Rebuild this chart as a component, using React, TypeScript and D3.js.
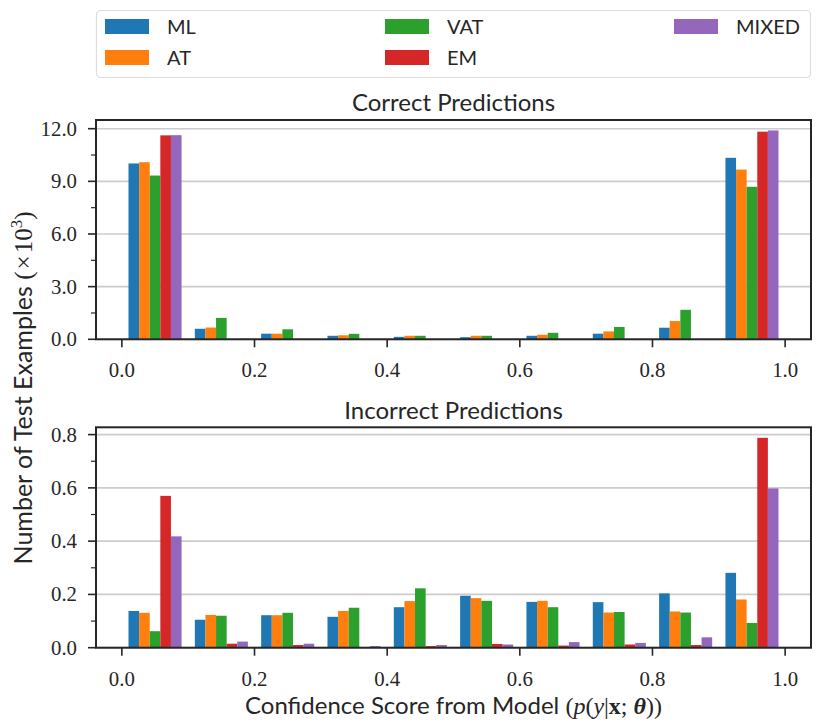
import React from "react";
import * as d3 from "d3";

const seriesNames = ["ML", "AT", "VAT", "EM", "MIXED"];
const seriesColors = ["#1f77b4", "#ff7f0e", "#2ca02c", "#d62728", "#9467bd"];
const binStarts = [0.0, 0.1, 0.2, 0.3, 0.4, 0.5, 0.6, 0.7, 0.8, 0.9];

// Correct predictions (x10^3)
const correctML = [10.02, 0.6, 0.32, 0.2, 0.14, 0.12, 0.2, 0.32, 0.66, 10.34];
const correctAT = [10.09, 0.67, 0.32, 0.23, 0.2, 0.2, 0.26, 0.45, 1.04, 9.67];
const correctVAT = [9.33, 1.22, 0.57, 0.31, 0.2, 0.2, 0.37, 0.7, 1.68, 8.69];
const correctEM = [11.62, 0.01, 0.0, 0.0, 0.0, 0.0, 0.0, 0.0, 0.01, 11.83];
const correctMIXED = [11.63, 0.03, 0.0, 0.0, 0.0, 0.0, 0.0, 0.0, 0.02, 11.9];

// Incorrect predictions (x10^3)
const incorrectML = [0.138, 0.105, 0.122, 0.116, 0.152, 0.195, 0.172, 0.171, 0.204, 0.281];
const incorrectAT = [0.131, 0.123, 0.122, 0.138, 0.175, 0.186, 0.176, 0.132, 0.136, 0.181];
const incorrectVAT = [0.062, 0.12, 0.131, 0.15, 0.223, 0.176, 0.152, 0.134, 0.132, 0.093];
const incorrectEM = [0.57, 0.015, 0.01, 0.002, 0.006, 0.014, 0.008, 0.012, 0.01, 0.788];
const incorrectMIXED = [0.418, 0.023, 0.015, 0.006, 0.01, 0.012, 0.021, 0.018, 0.039, 0.598];

const xTicks = [0.0, 0.2, 0.4, 0.6, 0.8, 1.0];
const topYTicks = [0, 3, 6, 9, 12];
const topYMinor = [1.5, 4.5, 7.5, 10.5];
const botYTicks = [0, 0.2, 0.4, 0.6, 0.8];
const botYMinor = [0.1, 0.3, 0.5, 0.7];

const correctSeries = [correctML, correctAT, correctVAT, correctEM, correctMIXED];
const incorrectSeries = [incorrectML, incorrectAT, incorrectVAT, incorrectEM, incorrectMIXED];

const W = 830;
const H = 727;
const L = 96;
const R = 811;
const SANS = "Lato, 'Open Sans', sans-serif";
const SERIF = "'Liberation Serif', 'DejaVu Serif', serif";
const INK = "#262626";
const GRID = "#cccccc";
const BAR_PAD = 0.01;
const BAR_W = 0.016;

const xScale = d3.scaleLinear().domain([-0.039, 1.039]).range([L, R]);

type PanelProps = {
  data: number[][];
  top: number;
  bottom: number;
  ticks: number[];
  minor: number[];
  title: string;
  titleY: number;
};

function Panel({ data, top, bottom, ticks, minor, title, titleY }: PanelProps) {
  const maxV = d3.max(data.flat()) as number;
  const y = d3.scaleLinear().domain([0, maxV * 1.05]).range([bottom, top]);
  const fmt = d3.format(".1f");
  return (
    <g>
      <text x={(L + R) / 2} y={titleY} textAnchor="middle" fontFamily={SANS} fontSize={24} fill={INK}>
        {title}
      </text>
      {ticks.map((t) => (
        <line key={"g" + t} x1={L} x2={R} y1={y(t)} y2={y(t)} stroke={GRID} strokeWidth={1.6} />
      ))}
      {data.map((vals, j) =>
        vals.map((v, i) => {
          const x0 = xScale(binStarts[i] + BAR_PAD + j * BAR_W);
          const x1 = xScale(binStarts[i] + BAR_PAD + (j + 1) * BAR_W);
          return (
            <rect
              key={j + "-" + i}
              x={x0}
              width={x1 - x0}
              y={y(v)}
              height={y(0) - y(v)}
              fill={seriesColors[j]}
            />
          );
        })
      )}
      <rect x={L} y={top} width={R - L} height={bottom - top} fill="none" stroke={INK} strokeWidth={2} />
      {ticks.map((t) => (
        <g key={"yt" + t}>
          <line x1={L - 8} x2={L} y1={y(t)} y2={y(t)} stroke={INK} strokeWidth={1.6} />
          <text x={77} y={y(t)} dy="0.34em" textAnchor="end" fontFamily={SERIF} fontSize={20.8} fill={INK}>
            {fmt(t)}
          </text>
        </g>
      ))}
      {minor.map((t) => (
        <line key={"ym" + t} x1={L - 5} x2={L} y1={y(t)} y2={y(t)} stroke={INK} strokeWidth={1.2} />
      ))}
      {xTicks.map((t) => (
        <g key={"xt" + t}>
          <line x1={xScale(t)} x2={xScale(t)} y1={bottom} y2={bottom + 8} stroke={INK} strokeWidth={1.6} />
          <text x={xScale(t)} y={bottom + 38} textAnchor="middle" fontFamily={SERIF} fontSize={20.8} fill={INK}>
            {fmt(t)}
          </text>
        </g>
      ))}
    </g>
  );
}

function Legend() {
  const cols = [
    { patchX: 105, textX: 167 },
    { patchX: 385, textX: 447 },
    { patchX: 674, textX: 736 },
  ];
  const rows = [19, 50];
  return (
    <g>
      <rect x={96.5} y={10.5} width={714} height={67} rx={4} fill="#ffffff" stroke="#dddddd" strokeWidth={1.2} />
      {seriesNames.map((name, k) => {
        const c = cols[Math.floor(k / 2)];
        const r = rows[k % 2];
        return (
          <g key={name}>
            <rect x={c.patchX} y={r} width={44} height={15} fill={seriesColors[k]} />
            <text x={c.textX} y={r + 15} fontFamily={SANS} fontSize={20} fill={INK}>
              {name}
            </text>
          </g>
        );
      })}
    </g>
  );
}

export default function App() {
  return (
    <svg
      width={W}
      height={H}
      viewBox={`0 0 ${W} ${H}`}
      style={{ position: "absolute", left: 0, top: 0, background: "#ffffff" }}
    >
      <rect x={0} y={0} width={W} height={H} fill="#ffffff" />
      <Legend />
      <Panel
        data={correctSeries}
        top={120}
        bottom={339.3}
        ticks={topYTicks}
        minor={topYMinor}
        title="Correct Predictions"
        titleY={111}
      />
      <Panel
        data={incorrectSeries}
        top={427.3}
        bottom={647.7}
        ticks={botYTicks}
        minor={botYMinor}
        title="Incorrect Predictions"
        titleY={419}
      />
      <text x={(L + R) / 2} y={714} textAnchor="middle" fontSize={24} fill={INK}>
        <tspan fontFamily={SANS}>Confidence Score from Model </tspan>
        <tspan fontFamily={SERIF}>(</tspan>
        <tspan fontFamily={SERIF} fontStyle="italic">p</tspan>
        <tspan fontFamily={SERIF}>(</tspan>
        <tspan fontFamily={SERIF} fontStyle="italic">y</tspan>
        <tspan fontFamily={SERIF}>|</tspan>
        <tspan fontFamily={SERIF} fontWeight="bold">x</tspan>
        <tspan fontFamily={SERIF}>; </tspan>
        <tspan fontFamily={SERIF} fontWeight="bold" fontStyle="italic">θ</tspan>
        <tspan fontFamily={SERIF}>))</tspan>
      </text>
      <text transform="translate(32,388) rotate(-90)" textAnchor="middle" fontSize={25} fill={INK}>
        <tspan fontFamily={SANS}>Number of Test Examples </tspan>
        <tspan fontFamily={SERIF}>(</tspan>
        <tspan fontFamily={SERIF} dx={2}>×</tspan>
        <tspan fontFamily={SERIF} dx={2}>10</tspan>
        <tspan fontFamily={SERIF} fontSize={17} dy={-10}>3</tspan>
        <tspan fontFamily={SERIF} dy={10}>)</tspan>
      </text>
    </svg>
  );
}
